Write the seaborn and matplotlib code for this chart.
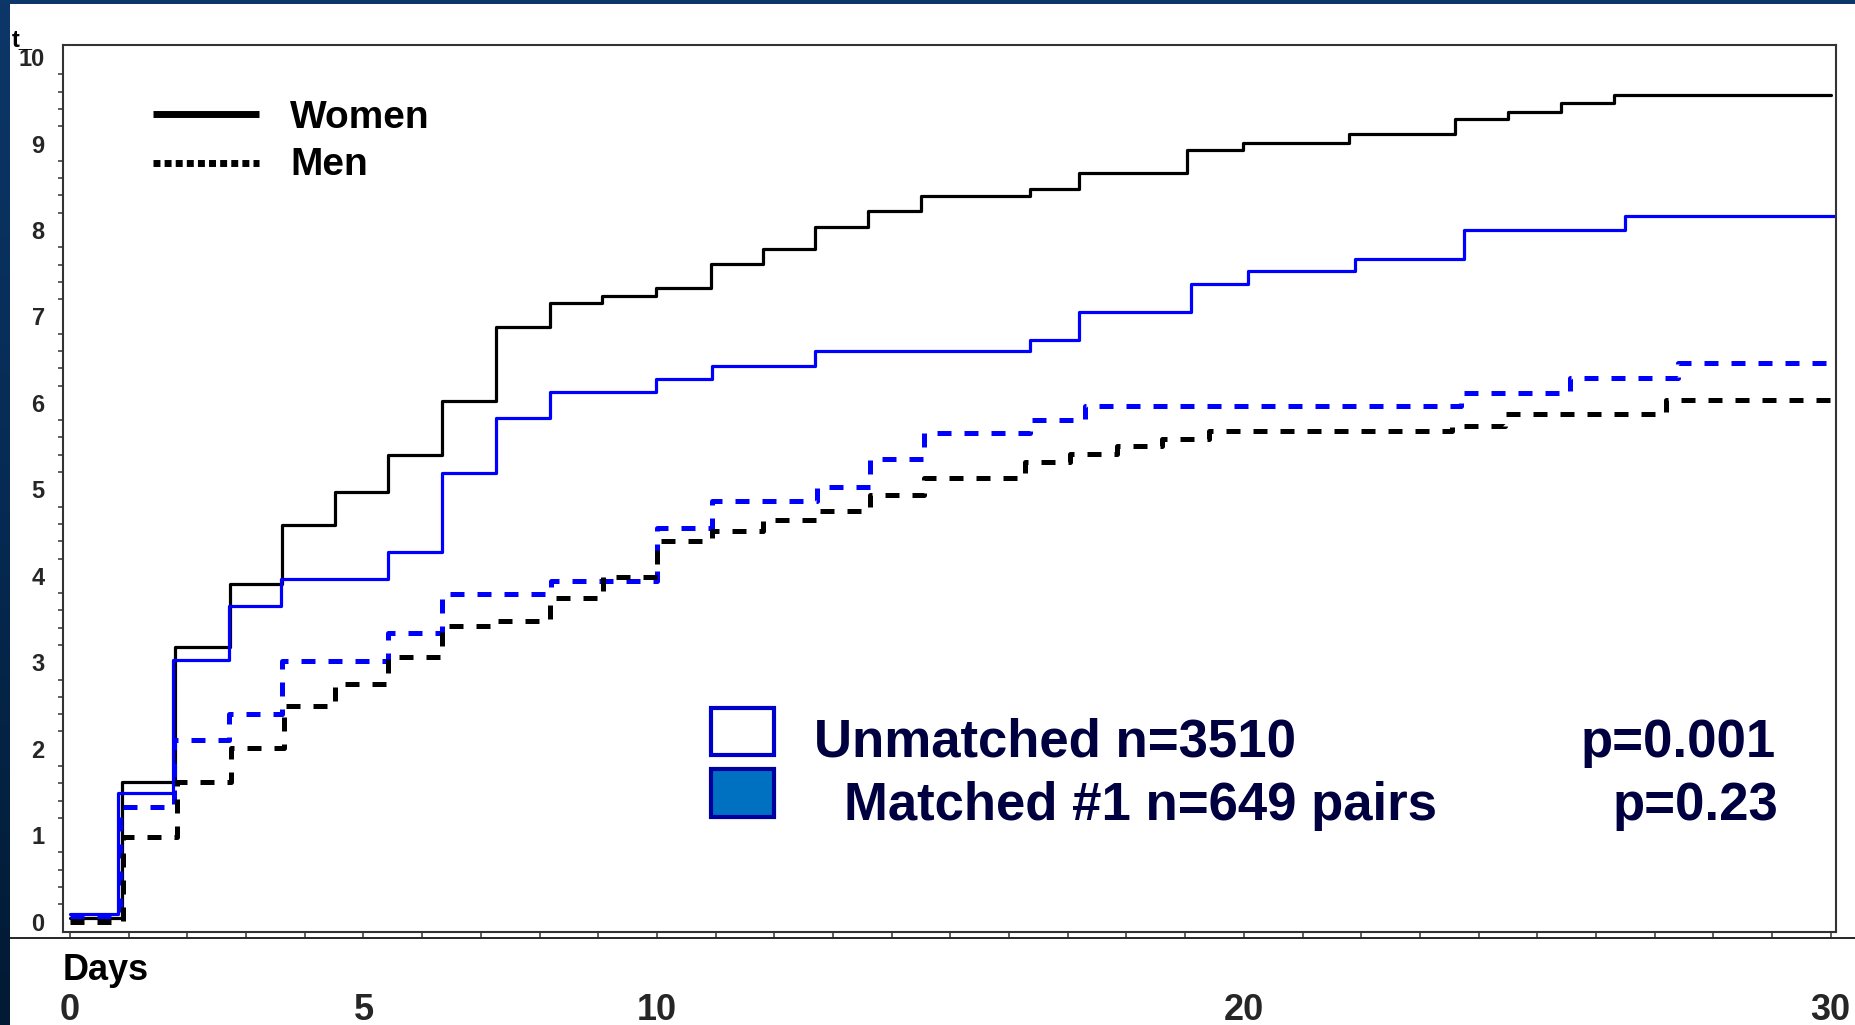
import numpy as np
import pandas as pd
import matplotlib
matplotlib.use("Agg")
import matplotlib.pyplot as plt
import seaborn as sns
from matplotlib.lines import Line2D
from matplotlib.patches import Rectangle
from matplotlib.ticker import MultipleLocator, FixedLocator
from matplotlib.colors import LinearSegmentedColormap

# Cumulative event rate (%) as step functions: day of each step and level after it
women_unmatched_days = [0, 0.88, 1.78, 2.73, 3.62, 4.51, 5.42, 6.33, 7.26, 8.17, 9.07, 9.99,
                        10.92, 11.8, 12.7, 13.6, 14.5, 16.35, 17.2, 19.04, 19.98, 21.8, 23.6,
                        24.5, 25.4, 26.3, 30.0]
women_unmatched_pct = [0.04, 1.61, 3.18, 3.90, 4.59, 4.97, 5.40, 6.02, 6.88, 7.16, 7.24, 7.33,
                       7.61, 7.78, 8.03, 8.22, 8.39, 8.47, 8.66, 8.92, 9.01, 9.11, 9.28,
                       9.37, 9.47, 9.56, 9.56]

women_matched_days = [0, 0.82, 1.75, 2.70, 3.60, 5.42, 6.33, 7.26, 8.18, 9.99, 10.94, 12.7,
                      16.35, 17.2, 19.1, 20.07, 21.9, 23.75, 26.5, 30.1]
women_matched_pct = [0.09, 1.49, 3.03, 3.65, 3.96, 4.28, 5.19, 5.82, 6.13, 6.28, 6.43, 6.60,
                     6.73, 7.05, 7.37, 7.53, 7.67, 8.00, 8.16, 8.16]

men_matched_days = [0, 0.85, 1.77, 2.70, 3.62, 5.42, 6.33, 8.19, 10.0, 10.94, 12.72, 13.63,
                    14.55, 16.35, 17.3, 23.7, 25.55, 27.4, 30.1]
men_matched_pct = [0.06, 1.33, 2.10, 2.40, 3.02, 3.34, 3.79, 3.94, 4.55, 4.87, 5.03, 5.35,
                   5.65, 5.80, 5.96, 6.12, 6.29, 6.46, 6.46]

men_unmatched_days = [0, 0.90, 1.82, 2.74, 3.65, 4.51, 5.42, 6.33, 7.24, 8.18, 9.08, 10.0,
                      10.93, 11.8, 12.72, 13.63, 14.55, 16.27, 17.04, 17.84, 18.6, 19.4,
                      23.55, 24.45, 27.2, 30.0]
men_unmatched_pct = [0.0, 0.98, 1.61, 2.01, 2.49, 2.75, 3.06, 3.42, 3.48, 3.74, 3.99, 4.40,
                     4.52, 4.65, 4.75, 4.94, 5.13, 5.32, 5.41, 5.50, 5.58, 5.67,
                     5.73, 5.87, 6.03, 6.03]

x_tick_values = [0, 5, 10, 20, 30]
x_tick_labels = ["0", "5", "10", "20", "30"]
y_tick_values = [0, 1, 2, 3, 4, 5, 6, 7, 8, 9, 10]

sex_labels = ["Women", "Men"]
group_labels = ["Unmatched n=3510", "Matched #1 n=649 pairs"]
p_labels = ["p=0.001", "p=0.23"]

sns.set_style("white")
plt.rcParams["font.family"] = ["Liberation Sans", "DejaVu Sans"]

W, H = 1856, 1025
fig = plt.figure(figsize=(W / 100, H / 100), dpi=100)
fig.patch.set_facecolor("white")

ax = fig.add_axes([63 / W, 1 - 932 / H, (1836 - 63) / W, (932 - 45) / H])
ax.set_facecolor("white")

solid_w = 2.3
dash_w = 3.6
curves = [
    (women_unmatched_days, women_unmatched_pct, "black", solid_w, "-"),
    (women_matched_days, women_matched_pct, "#0000ff", solid_w, "-"),
    (men_matched_days, men_matched_pct, "#0000ff", dash_w, (0, (2.8, 2.6))),
    (men_unmatched_days, men_unmatched_pct, "black", dash_w, (0, (2.8, 2.6))),
]
for days, pct, color, lw, ls in curves:
    df = pd.DataFrame({"day": days, "pct": pct})
    sns.lineplot(data=df, x="day", y="pct", ax=ax, color=color, linewidth=lw,
                 linestyle=ls, drawstyle="steps-post", estimator=None, sort=False,
                 legend=False)

ax.set_xlim(-0.12, 30.09)
ax.set_ylim(-0.12, 10.14)
ax.set_xlabel("")
ax.set_ylabel("")

for sp in ax.spines.values():
    sp.set_color("#333333")
    sp.set_linewidth(1.5)

# y axis: bold labels, major and minor ticks
ax.yaxis.set_major_locator(FixedLocator(y_tick_values))
ax.yaxis.set_minor_locator(MultipleLocator(0.2))
ax.set_yticklabels([str(v) for v in y_tick_values])
ax.tick_params(axis="y", which="major", direction="out", length=7.2, width=1.1,
               color="#333333", pad=6, labelsize=17)
ax.tick_params(axis="y", which="minor", direction="out", length=3.6, width=1.1,
               color="#333333", left=True)
for lab in ax.get_yticklabels():
    lab.set_fontweight("bold")

# x axis: daily ticks, large bold labels well below the frame
ax.xaxis.set_major_locator(FixedLocator(x_tick_values))
ax.xaxis.set_minor_locator(MultipleLocator(1))
ax.set_xticklabels(x_tick_labels)
ax.tick_params(axis="x", which="both", direction="out", length=3.6, width=1.1,
               color="#333333", bottom=True)
ax.tick_params(axis="x", which="major", pad=40, labelsize=26)
for lab in ax.get_xticklabels():
    lab.set_fontweight("bold")

# line-style key in the upper left
ax.add_line(Line2D([0.0508, 0.1105], [0.922, 0.922], transform=ax.transAxes,
                   color="black", lw=5, solid_capstyle="butt"))
ax.add_line(Line2D([0.0508, 0.1105], [0.867, 0.867], transform=ax.transAxes,
                   color="black", lw=5, linestyle=(0, (1.0, 0.6))))
ax.text(0.128, 0.9064, sex_labels[0], transform=ax.transAxes, fontsize=28,
        fontweight="bold", va="baseline", ha="left", color="black")
ax.text(0.128, 0.8535, sex_labels[1], transform=ax.transAxes, fontsize=28,
        fontweight="bold", va="baseline", ha="left", color="black")

# group key with p-values
navy = "#000040"
ax.add_patch(Rectangle((0.3655, 0.1996), 0.0355, 0.0529, transform=ax.transAxes,
                       facecolor="white", edgecolor="#0000cc", lw=3, zorder=5))
ax.add_patch(Rectangle((0.3655, 0.1297), 0.0355, 0.0541, transform=ax.transAxes,
                       facecolor="#0070c0", edgecolor="#0000a0", lw=3, zorder=5))
ax.text(0.4236, 0.1973, group_labels[0], transform=ax.transAxes, fontsize=38,
        fontweight="bold", color=navy, va="baseline", ha="left")
ax.text(0.4405, 0.1263, group_labels[1], transform=ax.transAxes, fontsize=38,
        fontweight="bold", color=navy, va="baseline", ha="left")
ax.text(0.9662, 0.1973, p_labels[0], transform=ax.transAxes, fontsize=38,
        fontweight="bold", color=navy, va="baseline", ha="right")
ax.text(0.9673, 0.1263, p_labels[1], transform=ax.transAxes, fontsize=38,
        fontweight="bold", color=navy, va="baseline", ha="right")

# axis caption and the remnant of the vertical axis title
fig.text(63 / W, 1 - 970 / H, "Days", fontsize=26, fontweight="bold",
         ha="left", va="center", color="black")
fig.text(12 / W, 1 - 40 / H, "t_", fontsize=17, fontweight="bold",
         ha="left", va="center", color="black")

# rule under the plot frame
fig.add_artist(Line2D([10 / W, 1.0], [1 - 938 / H, 1 - 938 / H], color="black", lw=1.2))

# dark navy frame on the top and left edges
cmap = LinearSegmentedColormap.from_list("frame", ["#0c3768", "#062a52", "#021a33"])
left_band = fig.add_axes([0, 0, 10 / W, 1], zorder=10)
left_band.imshow(np.linspace(0, 1, 256).reshape(-1, 1), aspect="auto", cmap=cmap)
left_band.set_axis_off()
top_band = fig.add_axes([0, 1 - 4 / H, 1, 4 / H], zorder=10)
top_band.set_facecolor("#0c3768")
top_band.set_xticks([])
top_band.set_yticks([])
for sp in top_band.spines.values():
    sp.set_visible(False)

fig.savefig("out.png", dpi=100, facecolor=fig.get_facecolor())
